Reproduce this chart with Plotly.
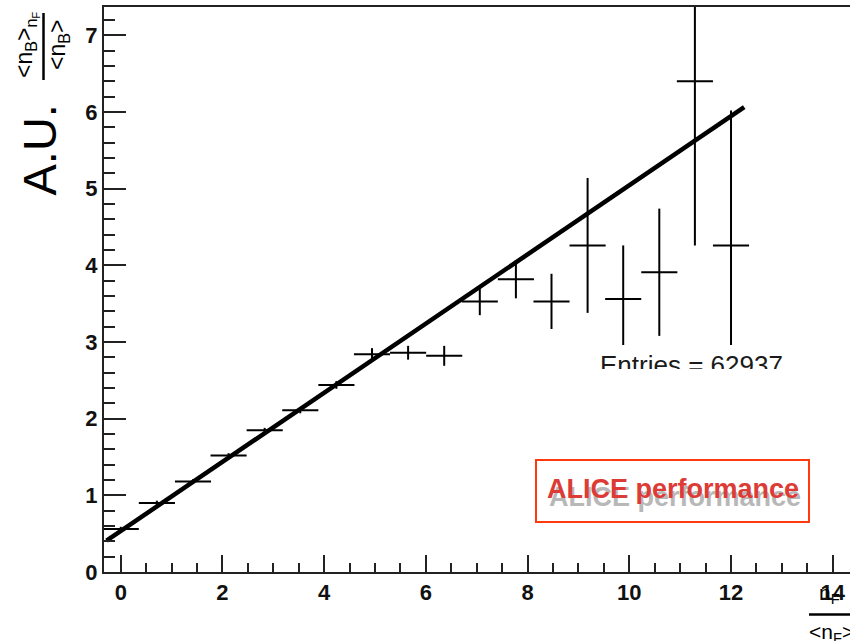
import plotly.graph_objects as go

# ---- measured profile: <n_B>_{n_F}/<n_B> versus n_F/<n_F> ----
bin_centers = [0.0, 0.71, 1.42, 2.12, 2.83, 3.53, 4.24, 4.94, 5.65, 6.36,
               7.06, 7.77, 8.47, 9.18, 9.88, 10.59, 11.29, 12.0]
bin_half_width = [0.355] * len(bin_centers)
ratio_values = [0.56, 0.90, 1.18, 1.52, 1.85, 2.11, 2.44, 2.84, 2.86, 2.82,
                3.53, 3.82, 3.53, 4.26, 3.56, 3.91, 6.40, 4.26]
ratio_errors = [0.03, 0.03, 0.03, 0.03, 0.03, 0.04, 0.05, 0.08, 0.09, 0.13,
                0.18, 0.25, 0.36, 0.88, 0.70, 0.83, 2.14, 1.76]

# ---- linear fit ----
fit_intercept = 0.535
fit_slope = 0.451
fit_x_limits = [-0.28, 12.26]

x_tick_vals = [0, 2, 4, 6, 8, 10, 12, 14]
y_tick_vals = [0, 1, 2, 3, 4, 5, 6, 7]
entries = 62937

# plot-area geometry (pixels) used to place the free-floating labels
W, H = 850, 641
L, R, T, B = 104, 0, 7, 69
PW, PH = W - L - R, H - T - B


def px(xp):
    return (xp - L) / PW


def py(yp):
    return (H - B - yp) / PH


AXIS = "#222222"
TEXT_FONT = "Liberation Sans, Arial, Helvetica, sans-serif"
TICK_FONT = dict(family=TEXT_FONT, size=22, color="#111111", weight="bold")

fig = go.Figure()

fig.add_trace(go.Scatter(
    x=bin_centers, y=ratio_values, mode="markers",
    marker=dict(size=1, color="black"),
    error_x=dict(type="data", array=bin_half_width, width=0, thickness=2, color="black"),
    error_y=dict(type="data", array=ratio_errors, width=0, thickness=2, color="black"),
    showlegend=False, hoverinfo="skip",
))

fit_y = [fit_intercept + fit_slope * x for x in fit_x_limits]
fig.add_trace(go.Scatter(
    x=fit_x_limits, y=fit_y, mode="lines",
    line=dict(color="black", width=4.5),
    showlegend=False, hoverinfo="skip",
))

shapes = []
annotations = []

# statistics box (white, hides what lies under it)
shapes.append(dict(type="rect", xref="paper", yref="paper", layer="above",
                   x0=px(590), x1=px(795), y0=py(345), y1=py(410),
                   line=dict(width=0), fillcolor="white"))
annotations.append(dict(xref="paper", yref="paper", x=px(598), y=py(364.5),
                        xanchor="left", yanchor="middle", showarrow=False,
                        text=f"Entries = {entries}",
                        font=dict(family=TEXT_FONT, size=26, color="#1a1a1a")))
annotations.append(dict(xref="paper", yref="paper", x=px(592), y=py(368.5),
                        xanchor="left", yanchor="top", showarrow=False,
                        text=" ", width=200, height=30, bgcolor="white",
                        borderpad=0, borderwidth=0))

# ALICE performance label
shapes.append(dict(type="rect", xref="paper", yref="paper", layer="above",
                   x0=px(536), x1=px(809), y0=py(522), y1=py(460),
                   line=dict(width=2, color="#ff3a10"), fillcolor="white"))
annotations.append(dict(xref="paper", yref="paper", x=px(675), y=py(497),
                        xanchor="center", yanchor="middle", showarrow=False,
                        text="ALICE performance",
                        font=dict(family=TEXT_FONT, size=27, color="#b8b8b8", weight="bold")))
annotations.append(dict(xref="paper", yref="paper", x=px(673), y=py(489),
                        xanchor="center", yanchor="middle", showarrow=False,
                        text="ALICE performance",
                        font=dict(family=TEXT_FONT, size=27, color="#dc3b36", weight="bold")))

# y-axis title: "A.U." and the ratio <n_B>_{n_F} / <n_B>
annotations.append(dict(xref="paper", yref="paper", x=px(38.5), y=py(150),
                        xanchor="center", yanchor="middle", textangle=-90, showarrow=False,
                        text="A.U.", font=dict(family=TEXT_FONT, size=47, color="black")))
annotations.append(dict(xref="paper", yref="paper", x=px(27), y=py(45),
                        xanchor="center", yanchor="middle", textangle=-90, showarrow=False,
                        text="&lt;n<sub>B</sub>&gt;<sub>n<sub>F</sub></sub>",
                        font=dict(family=TEXT_FONT, size=23, color="black")))
shapes.append(dict(type="line", xref="paper", yref="paper", layer="above",
                   x0=px(43.5), x1=px(43.5), y0=py(13), y1=py(80),
                   line=dict(width=2.5, color="black")))
annotations.append(dict(xref="paper", yref="paper", x=px(59), y=py(45),
                        xanchor="center", yanchor="middle", textangle=-90, showarrow=False,
                        text="&lt;n<sub>B</sub>&gt;",
                        font=dict(family=TEXT_FONT, size=23, color="black")))

# x-axis title: n_F / <n_F>
annotations.append(dict(xref="paper", yref="paper", x=px(829), y=py(594),
                        xanchor="center", yanchor="middle", showarrow=False,
                        text="n<sub>F</sub>",
                        font=dict(family=TEXT_FONT, size=21, color="black")))
shapes.append(dict(type="line", xref="paper", yref="paper", layer="above",
                   x0=px(809), x1=px(850), y0=py(614.5), y1=py(614.5),
                   line=dict(width=2.5, color="black")))
annotations.append(dict(xref="paper", yref="paper", x=px(831), y=py(633),
                        xanchor="center", yanchor="middle", showarrow=False,
                        text="&lt;n<sub>F</sub>&gt;",
                        font=dict(family=TEXT_FONT, size=21, color="black")))

fig.update_layout(
    width=W, height=H,
    margin=dict(l=L, r=R, t=T, b=B, pad=0),
    paper_bgcolor="white", plot_bgcolor="white",
    shapes=shapes, annotations=annotations,
    xaxis=dict(range=[-0.33, 14.34], showline=True, linewidth=2, linecolor=AXIS, mirror=True,
               showgrid=False, zeroline=False,
               ticks="inside", ticklen=17, tickwidth=2, tickcolor=AXIS,
               tickvals=x_tick_vals, ticktext=[str(v) for v in x_tick_vals],
               tickfont=TICK_FONT,
               minor=dict(ticks="inside", ticklen=9, tickwidth=2, tickcolor=AXIS,
                          dtick=0.5, tick0=0, showgrid=False)),
    yaxis=dict(range=[0, 7.37], showline=True, linewidth=2, linecolor=AXIS,
               showgrid=False, zeroline=False,
               ticks="inside", ticklen=22, tickwidth=2, tickcolor=AXIS,
               tickvals=y_tick_vals, ticktext=[str(v) for v in y_tick_vals],
               tickfont=TICK_FONT,
               minor=dict(ticks="inside", ticklen=11, tickwidth=2, tickcolor=AXIS,
                          dtick=0.2, tick0=0, showgrid=False)),
)

fig.write_html("out.html")
